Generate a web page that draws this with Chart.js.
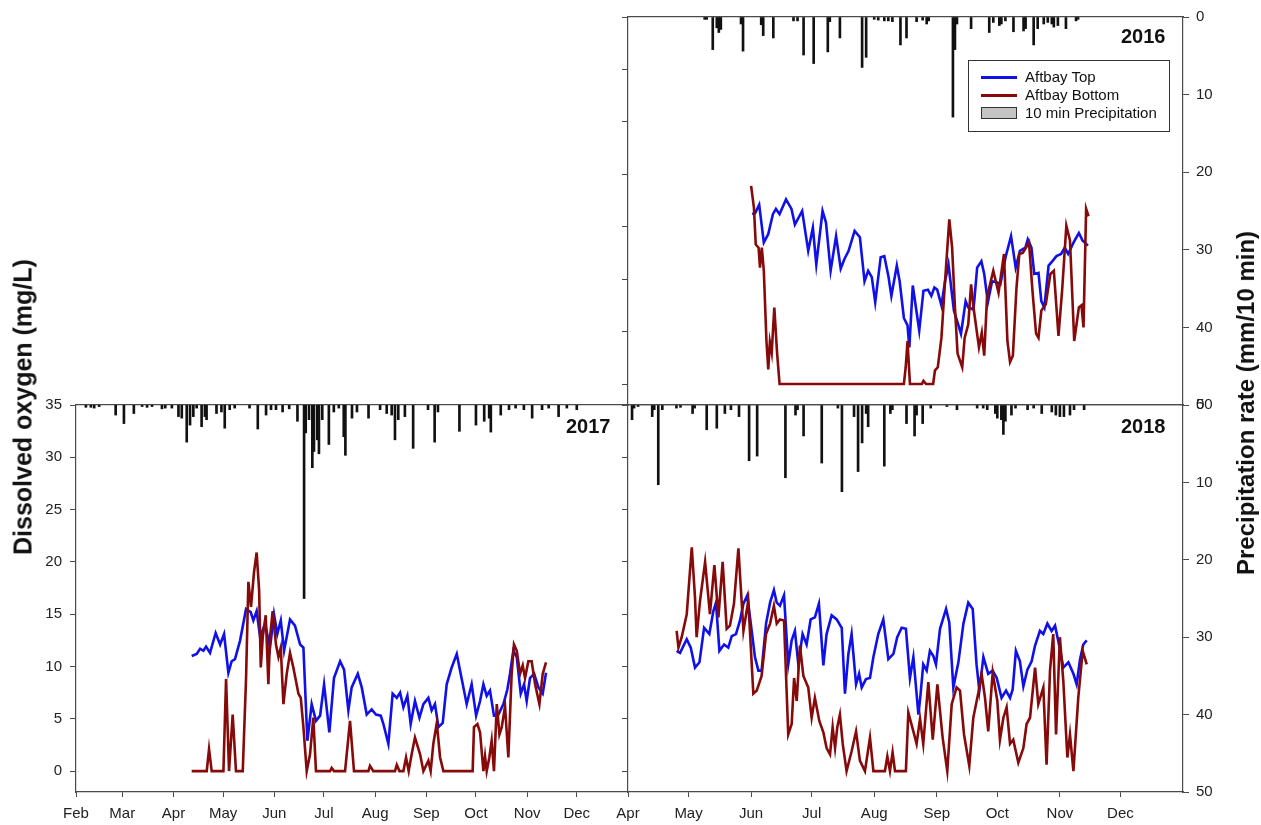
<!DOCTYPE html>
<html>
<head>
<meta charset="utf-8">
<title>Aftbay dissolved oxygen and precipitation</title>
<script src="https://cdn.jsdelivr.net/npm/chart.js@4.4.1/dist/chart.umd.min.js"></script>
<style>
  html, body { margin: 0; padding: 0; background: #fff; }
  #wrap { position: relative; width: 1261px; height: 825px; overflow: hidden;
          font-family: "Liberation Sans", Arial, sans-serif; color: #111; }
  #wrap canvas { position: absolute; left: 0; top: 0; }
  .vtitle { position: absolute; white-space: nowrap; line-height: 1; font-weight: bold;
            transform: translate(-50%, -50%) rotate(-90deg); }
  .year { position: absolute; font-weight: bold; font-size: 20px; line-height: 20px; }
  #legend { position: absolute; left: 968px; top: 60px; width: 200px; height: 70px;
            border: 1px solid #333; background: #fff; font-size: 15px; }
  #legend .row { position: absolute; left: 12px; height: 18px; line-height: 18px; }
  #legend .sw { position: absolute; left: 0; width: 36px; }
  #legend .lbl { position: absolute; left: 44px; top: 0; white-space: nowrap; }
</style>
</head>
<body>
<div id="wrap">
  <canvas id="c2016" width="1261" height="825"></canvas>
  <canvas id="c2017" width="1261" height="825"></canvas>
  <canvas id="c2018" width="1261" height="825"></canvas>

  <div class="vtitle" style="left:23px; top:407px; font-size:25px;">Dissolved oxygen (mg/L)</div>
  <div class="vtitle" style="left:1246px; top:403px; font-size:24px;">Precipitation rate (mm/10 min)</div>

  <div class="year" style="left:1121px; top:26px;">2016</div>
  <div class="year" style="left:566px; top:416px;">2017</div>
  <div class="year" style="left:1121px; top:416px;">2018</div>

  <div id="legend">
    <div class="row" style="top:7px;"><div class="sw" style="top:8px; height:0; border-top:3px solid #1010e8;"></div><div class="lbl">Aftbay Top</div></div>
    <div class="row" style="top:25px;"><div class="sw" style="top:8px; height:0; border-top:3px solid #860a0a;"></div><div class="lbl">Aftbay Bottom</div></div>
    <div class="row" style="top:43px;"><div class="sw" style="top:3px; height:10px; width:34px; background:#c4c4c4; border:1px solid #333;"></div><div class="lbl">10 min Precipitation</div></div>
  </div>
</div>

<script>
// ---- axis ticks -----------------------------------------------------------
const doTicks = [0, 5, 10, 15, 20, 25, 30, 35];
const rainTicks = [0, 10, 20, 30, 40, 50];
const monthDaysFeb = [32, 60, 91, 121, 152, 182, 213, 244, 274, 305, 335];
const monthNamesFeb = ['Feb', 'Mar', 'Apr', 'May', 'Jun', 'Jul', 'Aug', 'Sep', 'Oct', 'Nov', 'Dec'];
const monthDaysApr = [91, 121, 152, 182, 213, 244, 274, 305, 335];
const monthNamesApr = ['Apr', 'May', 'Jun', 'Jul', 'Aug', 'Sep', 'Oct', 'Nov', 'Dec'];

// ---- 2016 (day of year, mg/L and mm/10 min) ------------------------------
const top2016Day = [152.5,154,156,158.3,160.5,162.8,164.3,166.1,169.3,172,173.7,177.3,180.3,182.6,184.3,187.4,189.1,191.4,194.1,196.4,198.2,200.3,203.3,205.9,208.2,210,211.8,213.5,216.2,218,220.1,221.5,224.2,225.6,227.7,229.5,230.4,232.1,235.3,237.4,239.6,241.3,242.8,244.2,246.3,248.1,249.8,252.5,256,258.3,259.6,262.2,264,266.1,267.5,269.3,271.4,273.7,275.5,278.2,280.8,283.1,285.2,287.9,289.1,290.9,292.3,294.4,295.8,297.3,299.4,301.2,303.3,305.6,307.4,309.1,311.8,314.4,316.2,318.9];
const top2016DO = [16.2,16.3,17.1,13.5,14.3,16.2,16.7,16.2,17.6,16.7,15.2,16.5,12.7,14.9,11.4,16.5,15.4,10.8,14.1,11.0,11.9,12.7,14.6,14.0,9.8,10.8,10.2,7.8,12.1,12.2,10.2,8.4,11.3,9.8,6.3,5.6,3.5,9.4,5.1,8.9,9.0,8.4,9.2,9.0,7.5,9.8,11.4,7.0,4.8,7.9,7.3,7.1,11.1,11.7,10.5,7.8,9.8,9.7,9.5,12.2,14.1,11.1,12.7,13.0,13.8,13.0,10.5,10.6,7.9,7.3,11.3,11.7,12.2,12.4,13.0,12.4,13.5,14.4,13.7,13.2];
const bot2016Day = [152,153.4,154.3,155.7,156.4,157.3,158.3,159.6,160.5,161.3,162.2,163.5,164.9,166.1,227.7,228.6,229.5,230.7,236.6,237.4,238.7,242.2,243.1,244.5,246.3,248.1,250.2,251.6,253,254.3,256.6,257.8,259.6,261,262.2,264.9,266.3,267.5,268.9,272,274.6,277.3,279,280.3,281.7,283.5,284.9,286.6,289.7,291.4,293.2,294.4,295.8,298,300.3,302,304.3,306.1,308.2,310,312.1,314.4,315.7,316.7,318,319.2];
const bot2016DO = [18.9,16.8,13.3,13.0,11.1,13.0,10.8,4.1,1.4,4.0,3.0,7.3,2.9,0,0,1.6,4.1,0,0,0.3,0,0,1.3,1.6,4.4,9.8,15.7,13.0,7.3,2.9,1.6,4.4,5.7,9.5,7.3,3.5,4.9,2.7,8.3,10.8,8.7,12.4,4.1,2.1,2.7,9.2,12.4,12.5,13.5,8.9,4.8,4.4,7.0,7.6,10.5,10.8,4.6,8.9,15.1,13.7,4.1,7.3,7.5,5.4,16.7,16.0];
const rain2016Day = [129,130,133,135,136,137,147,148,157,158,163,173,175,178,183,190,191,196,207,209,213,215,218,220,222,226,229,234,237,239,240,252,253,254,261,270,272,275,276,278,282,287,288,292,294,297,299,301,302,304,308,313,314];
const rain2016mm = [0.3,0.3,4.2,1.4,2.0,1.6,0.9,4.4,1.0,2.4,2.7,0.5,0.5,4.9,6.0,4.5,0.6,2.7,6.5,5.2,0.3,0.4,0.5,0.5,0.6,3.6,2.7,0.6,0.4,0.9,0.5,12.9,4.2,0.9,1.5,2.0,0.7,1.1,0.9,0.5,1.9,1.8,1.5,3.6,1.5,0.9,0.7,0.9,1.3,1.1,1.5,0.5,0.3];

// ---- 2017 ----------------------------------------------------------------
const top2017Day = [102,105,107.1,109.1,110.7,113.1,116.5,119.2,121.6,124.2,126.2,128.2,131.3,134.9,137.7,139.3,141.3,143.4,146.4,149.4,151.8,153.8,155.9,157.9,161.5,164.5,167.6,169.6,172,174.6,177.2,179.7,182.1,185.3,188.1,191.8,194.2,196.8,198.8,202.5,204.9,207.9,210.9,213.5,216.4,218,221,223.6,226.1,228.1,230.1,232.5,234.5,237.1,239.8,242.2,245.2,247.2,249.2,251.3,253.9,256.3,259.3,262.4,264.4,268.4,271.4,274.1,276.5,278.5,280.5,282.5,284.9,287.6,290.6,293,294.6,296.6,298.7,301.1,303.1,304.7,306.7,309.2,311.8,314.4,316.4];
const top2017DO = [11.0,11.2,11.7,11.5,11.9,11.3,13.2,12.1,13.1,9.4,10.5,10.7,12.5,15.5,15.2,14.4,15.3,12.8,14.1,11.8,15.0,13.1,14.4,11.5,14.5,13.9,12.1,11.8,2.9,6.4,4.8,5.3,8.3,3.7,8.9,10.5,9.7,5.8,8.0,9.3,8.0,5.4,5.9,5.4,5.3,4.5,2.6,7.4,7.0,7.5,6.1,7.2,4.5,6.7,5.1,6.4,7.0,5.8,6.4,4.2,4.6,8.3,9.9,11.2,9.6,6.4,8.3,5.3,6.7,8.3,7.2,7.7,5.3,5.4,6.4,7.8,9.3,11.5,10.9,7.4,8.3,6.7,8.9,9.3,8.0,7.4,9.4];
const bot2017Day = [102,111.1,112.5,114.1,121.2,122.8,124.6,126.8,128.8,132.9,134.9,136.3,137.9,139.7,141.3,142.8,143.8,145,146.8,148.4,149.4,151,153,154.5,155.9,157.5,159.5,161.5,163.5,166.6,168,169.6,171.6,173.6,175.6,177.2,185.7,186.7,188.1,194.8,197.8,200.2,208.9,209.9,211.9,225,226.1,227.7,230.1,231.7,233.3,235.1,237.1,240.2,242.2,245.2,246.6,248.2,250.3,252.3,254.3,272,272.8,274.9,276.5,278.5,279.5,280.5,282.1,283.5,284.9,286.6,288.2,289.6,291.6,293.6,295.6,297,298.7,300.7,302.3,303.7,305.7,307.7,309.8,312.4,314.4,316.4];
const bot2017DO = [0,0,2.1,0,0,8.8,0,5.4,0,0,8.9,18.1,15.7,19.0,20.9,17.3,9.9,12.8,14.9,8.3,12.8,15.3,12.1,10.9,11.8,6.4,9.3,11.3,9.9,7.4,7.0,4.2,0,1.6,5.1,0,0,0.3,0,0,4.8,0,0,0.5,0,0,0.6,0,0,1.3,0,1.6,3.2,1.6,0,1.0,0,2.6,4.6,1.3,0,0,4.2,4.5,3.7,0,1.4,0,1.3,2.9,0,6.4,3.5,4.2,6.2,1.3,9.3,12.1,11.5,9.3,10.1,8.9,10.5,10.5,8.3,6.4,9.3,10.4];
const rain2017Day = [38,41,43,46,56,61,67,72,75,78,84,86,90,94,96,99,101,103,105,108,110,111,117,120,122,125,128,137,142,147,150,153,157,161,166,170,171,173,175,176,178,179,181,185,188,191,194,195,199,202,209,216,220,223,225,227,231,236,245,249,251,264,274,279,282,283,289,294,298,303,308,314,318,324,329,335];
const rain2017mm = [0.3,0.3,0.4,0.2,1.3,2.4,1.1,0.2,0.3,0.2,0.5,0.4,0.4,1.5,1.7,4.8,2.6,1.5,0.4,2.8,1.5,1.9,1.1,0.9,3.0,0.6,0.4,0.4,3.1,1.3,0.6,0.6,0.9,0.5,2.1,25.0,3.6,1.9,8.1,6.0,4.5,6.3,1.9,5.1,0.9,0.4,4.1,6.5,1.7,0.9,1.7,0.6,1.1,1.3,4.5,1.9,1.5,5.6,0.6,4.8,0.9,3.4,2.6,2.1,1.7,3.5,1.3,0.6,0.4,0.6,1.7,0.6,0.4,1.5,0.4,0.6];

// ---- 2018 ----------------------------------------------------------------
const top2018Day = [115.1,116.8,120.1,122.1,124.2,126.4,128.7,131.3,133.3,134.6,136.3,138.6,140.7,142.4,144.5,146.5,148.2,150.1,152.3,153.9,155.6,157.2,159.4,161.4,163.3,164.7,166.3,168.3,170.4,172.1,173.7,175.4,177.5,179.5,181.5,183.6,185.6,187.8,189.4,191.9,194.4,196.9,198.5,200.2,201.8,204,205.5,206.8,208.9,210.9,212.6,215,217.5,220,222.5,224.4,226.6,228.7,230.7,232.4,234.9,236,237.3,239,240.6,242.3,243.6,245.6,248.6,250.2,252.2,254.7,257.2,259.6,261.8,263.7,265.1,267.1,269.5,271.7,273.7,276.1,278.3,280.3,281.6,283.2,285.2,286.9,288.9,291,292.7,295.1,296.8,298.8,300.9,302.6,305,306.7,309.2,311.7,313.3,315,316.6,318.3];
const top2018DO = [11.5,11.3,12.6,11.8,9.9,10.4,13.7,13.1,15.3,16.1,11.5,12.1,11.8,12.9,13.1,14.4,16.0,16.8,13.4,10.9,9.6,9.6,14.1,16.1,17.3,16.1,15.8,16.8,10.2,12.5,13.4,10.2,13.1,12.1,14.5,14.7,16.0,10.1,13.1,14.9,14.5,13.7,7.4,11.2,13.1,8.3,9.3,8.0,8.8,8.9,10.9,13.1,14.5,10.7,11.2,12.8,13.7,13.6,8.9,10.9,5.4,7.4,10.2,9.6,11.5,11.0,10.2,13.6,15.5,14.2,8.0,10.4,14.1,16.1,15.5,10.2,7.7,10.9,9.3,9.6,8.9,7.0,7.7,7.0,7.8,11.5,10.5,8.1,9.7,10.5,12.0,13.4,13.1,14.1,13.4,13.9,11.7,9.9,10.4,9.3,8.3,10.7,12.1,12.5];
const bot2018Day = [115.1,116,117.6,120.1,122.6,124.2,125,126.7,129.2,131.6,133.8,135.8,137.9,139.9,141.5,143.5,145.7,148.2,150.6,153.1,154.8,157.2,159.4,161.4,163.3,164.7,166.3,168.3,170.4,172.1,173.3,174.6,176.2,177.9,180.3,182,183.6,185.8,187.8,189.4,191.1,192.4,193.6,194.7,196,197.4,199.3,201.8,204,205.9,208.4,210.9,212.6,218.3,219.5,220.8,222.1,223.3,228.7,229.9,232.4,234,235.7,237.3,239.8,242,244.3,246.9,249.2,251.4,253.8,255.5,257.5,260.1,262.1,264.6,266.2,267.9,269.5,271.7,274,275.3,277,278.6,280.3,281.9,284.4,286.9,288.5,290.2,292.7,294.3,296.8,298.4,300.1,301.7,303.1,305,306.7,308.7,310,311.7,314.1,316.3,318.3];
const bot2018DO = [13.4,11.8,12.8,15.0,21.4,16.6,12.8,16.3,20.0,15.0,19.7,14.7,20.0,13.6,13.9,16.0,21.3,13.4,16.3,7.4,7.7,9.1,13.1,14.1,15.8,14.1,14.5,14.4,3.5,4.5,8.9,6.7,12.0,9.1,8.0,5.1,7.0,4.8,3.7,2.2,1.6,4.2,2.2,4.2,5.4,2.6,0,1.9,3.8,1.0,0,3.2,0,0,1.4,0,1.8,0,0,5.6,3.8,2.6,5.0,2.6,8.5,3.0,8.3,3.2,0,6.4,8.0,7.7,3.5,0.5,5.1,7.5,9.3,7.0,3.8,9.4,6.7,3.0,5.1,6.1,2.6,3.0,0.8,2.2,4.5,5.1,9.9,6.4,8.0,0.6,9.6,13.1,3.5,12.8,8.6,1.3,3.5,0,7.0,11.5,10.2];
const rain2018Day = [93,94,96,103,104,106,108,115,117,123,124,130,135,139,142,146,151,155,169,174,175,178,187,195,197,203,205,207,209,210,218,221,222,229,233,234,237,241,249,254,264,267,269,273,274,276,277,278,281,283,289,292,296,301,303,305,307,310,312,317];
const rain2018mm = [1.9,0.4,0.2,1.5,0.6,10.3,0.6,0.4,0.3,1.1,0.4,3.2,3.0,1.1,0.6,1.5,7.2,6.6,9.4,1.3,0.6,4.0,7.5,0.4,11.2,1.5,8.6,4.9,1.1,2.8,7.9,1.1,0.6,2.4,4.0,1.3,2.4,0.4,0.2,0.6,0.4,0.4,0.6,1.1,1.7,1.9,3.8,2.1,1.3,0.4,0.6,0.4,1.1,0.9,1.3,1.5,1.5,1.3,0.6,0.6];

// ---- drawing ---------------------------------------------------------------
const BLUE = '#1010e8';
const MAROON = '#860a0a';
const AXIS = '#4a4a4a';
const TEXT = '#222';
const TICK_FONT = { family: "'Liberation Sans', Arial, sans-serif", size: 15 };
const W = 1261, H = 825;

const pts = (xs, ys) => xs.map((x, i) => ({ x, y: ys[i] }));

function panel(canvasId, o) {
  const leftW = o.leftLabels ? 42 : 8;
  const rightW = o.rightAxis ? 48 : 0;
  const bottomH = o.xLabels ? 32 : 0;
  const fixW = w => s => { s.width = w; };
  const fixH = h => s => { s.height = h; };

  return new Chart(document.getElementById(canvasId), {
    type: 'line',
    data: {
      datasets: [
        { type: 'line', label: 'Aftbay Bottom', data: pts(o.botDay, o.botDO), yAxisID: 'y',
          borderColor: MAROON, borderWidth: 2.6, pointRadius: 0, tension: 0, order: 1 },
        { type: 'line', label: 'Aftbay Top', data: pts(o.topDay, o.topDO), yAxisID: 'y',
          borderColor: BLUE, borderWidth: 2.6, pointRadius: 0, tension: 0, order: 2 },
        { type: 'bar', label: '10 min Precipitation', data: pts(o.rainDay, o.rainMM), yAxisID: 'yP',
          backgroundColor: '#111', barThickness: 2, grouped: false, order: 3 }
      ]
    },
    options: {
      responsive: false, animation: false, devicePixelRatio: 1,
      events: [],
      layout: { padding: { left: o.area.l - leftW, right: W - o.area.r - rightW,
                           top: o.area.t, bottom: H - o.area.b - bottomH } },
      plugins: { legend: { display: false }, tooltip: { enabled: false } },
      scales: {
        x: {
          type: 'linear', position: 'bottom', min: o.xMin, max: 366, offset: false,
          afterBuildTicks: s => { s.ticks = o.monthDays.map(v => ({ value: v })); },
          afterFit: fixH(bottomH),
          ticks: { display: o.xLabels, autoSkip: false, maxRotation: 0, padding: 8,
                   color: TEXT, font: TICK_FONT,
                   callback: (v, i) => o.monthNames[i] },
          grid: { drawOnChartArea: false, drawTicks: o.xLabels, tickLength: 5, color: AXIS, offset: false },
          border: { color: AXIS, width: 1.2 }
        },
        xTop: {
          type: 'linear', position: 'top', min: o.xMin, max: 366,
          afterFit: fixH(0),
          ticks: { display: false },
          grid: { display: false, drawTicks: false },
          border: { color: AXIS, width: 1.2 }
        },
        y: {
          type: 'linear', position: 'left', min: -2, max: 35,
          afterBuildTicks: s => { s.ticks = doTicks.map(v => ({ value: v })); },
          afterFit: fixW(leftW),
          ticks: { display: o.leftLabels, padding: 8, color: TEXT, font: TICK_FONT },
          grid: { drawOnChartArea: false, tickLength: 6, color: AXIS },
          border: { color: AXIS, width: 1.2 }
        },
        yP: {
          type: 'linear', position: 'right', display: o.rightAxis, reverse: true, min: 0, max: 50,
          afterBuildTicks: s => { s.ticks = rainTicks.map(v => ({ value: v })); },
          afterFit: fixW(rightW),
          ticks: { padding: 7, color: TEXT, font: TICK_FONT },
          grid: { drawOnChartArea: false, tickLength: 6, color: AXIS },
          border: { color: AXIS, width: 1.2 }
        }
      }
    }
  });
}

panel('c2016', {
  area: { l: 628, r: 1183, t: 17, b: 405 }, xMin: 91,
  leftLabels: false, rightAxis: true, xLabels: false,
  monthDays: monthDaysApr, monthNames: monthNamesApr,
  topDay: top2016Day, topDO: top2016DO, botDay: bot2016Day, botDO: bot2016DO,
  rainDay: rain2016Day, rainMM: rain2016mm
});

panel('c2017', {
  area: { l: 76, r: 628, t: 405, b: 792 }, xMin: 32,
  leftLabels: true, rightAxis: false, xLabels: true,
  monthDays: monthDaysFeb, monthNames: monthNamesFeb,
  topDay: top2017Day, topDO: top2017DO, botDay: bot2017Day, botDO: bot2017DO,
  rainDay: rain2017Day, rainMM: rain2017mm
});

panel('c2018', {
  area: { l: 628, r: 1183, t: 405, b: 792 }, xMin: 91,
  leftLabels: false, rightAxis: true, xLabels: true,
  monthDays: monthDaysApr, monthNames: monthNamesApr,
  topDay: top2018Day, topDO: top2018DO, botDay: bot2018Day, botDO: bot2018DO,
  rainDay: rain2018Day, rainMM: rain2018mm
});
</script>
</body>
</html>
